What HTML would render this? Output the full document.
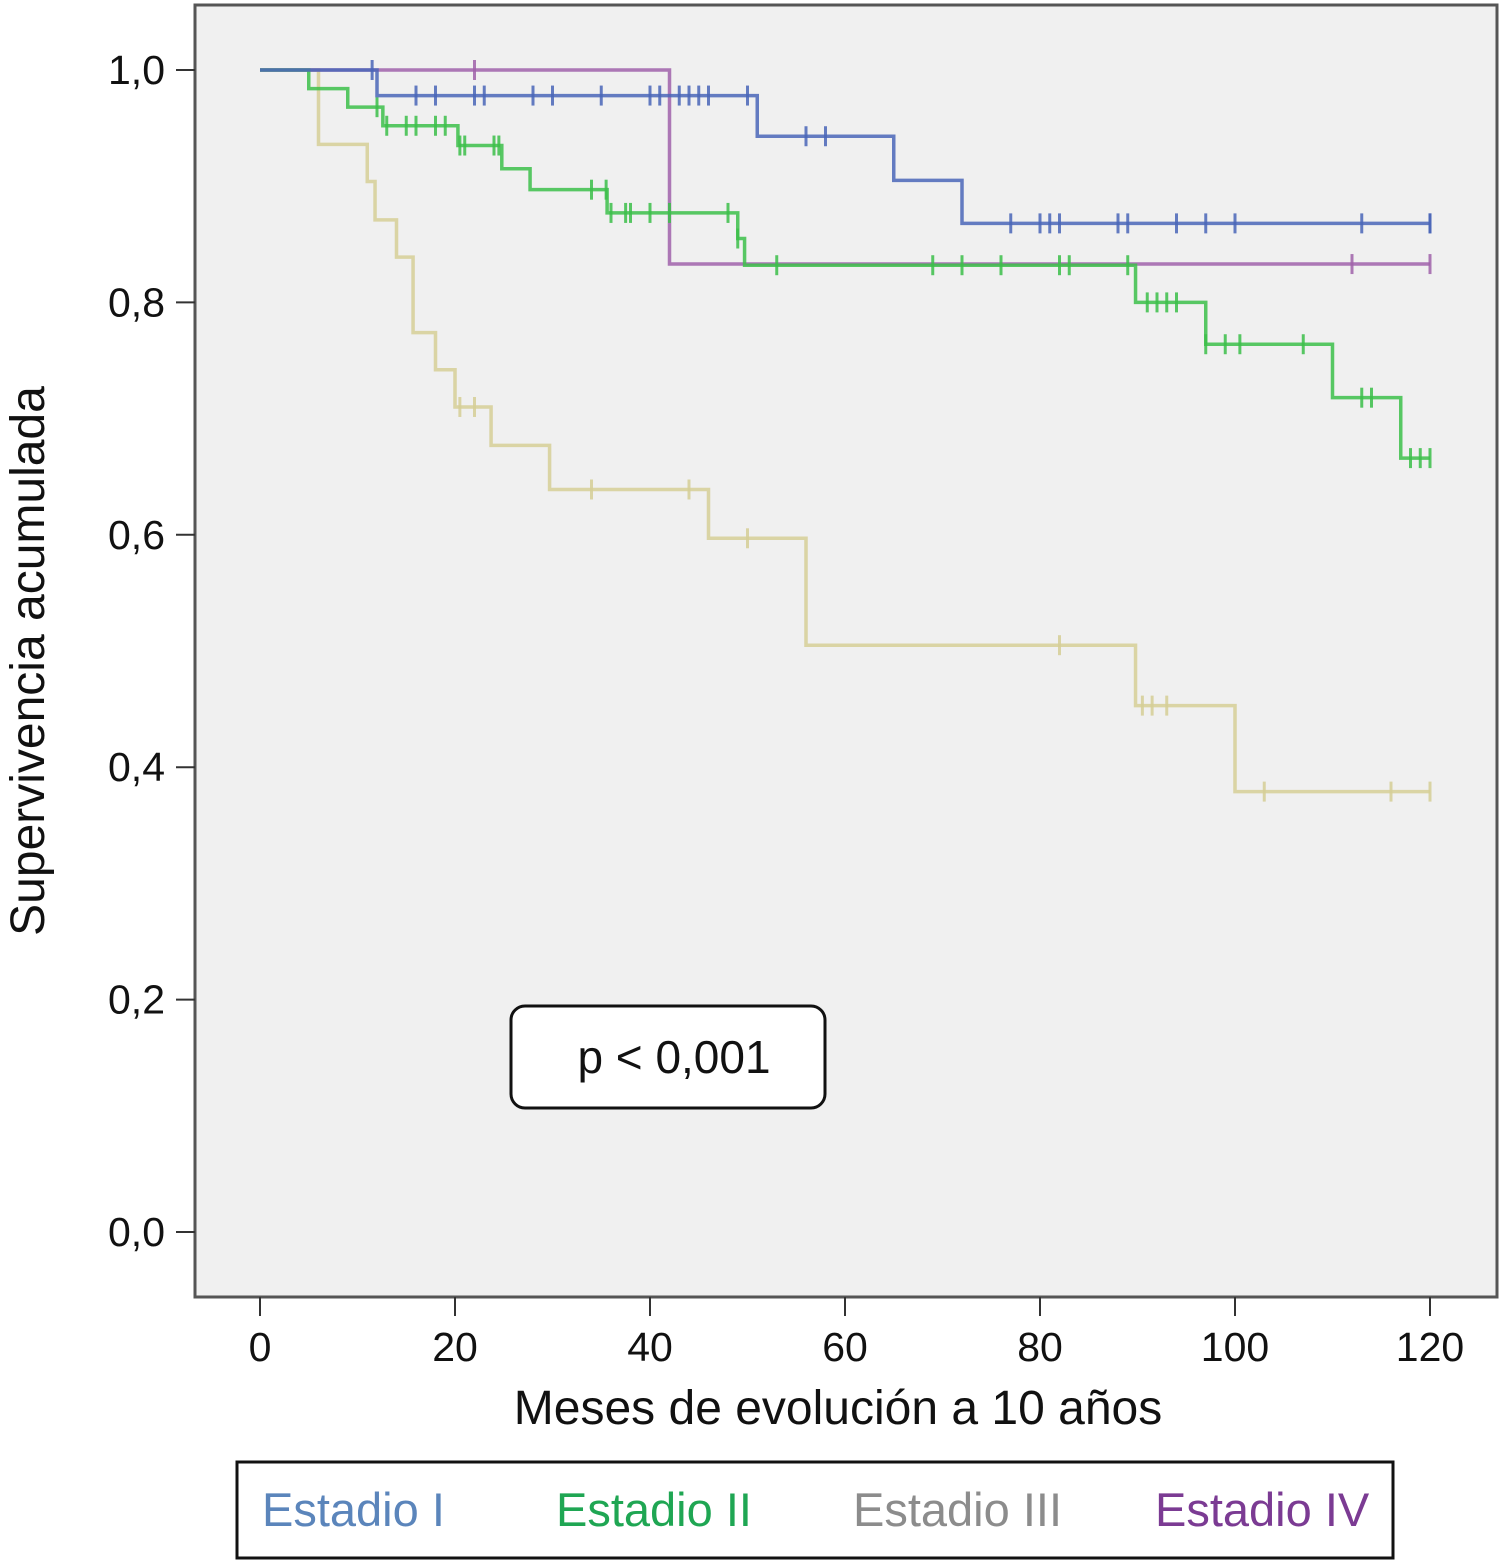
<!DOCTYPE html>
<html><head><meta charset="utf-8"><style>
body{margin:0;background:#fff;}
svg text{font-family:"Liberation Sans",sans-serif;}
</style></head><body>
<svg id="c" width="1503" height="1561" xmlns="http://www.w3.org/2000/svg">
<rect x="195" y="5" width="1302" height="1292" fill="#f0f0f0" stroke="#555" stroke-width="3"/>
<g id="axes"></g>
<g id="series"></g>
<text x="838" y="1424" font-size="48" text-anchor="middle" fill="#111">Meses de evolución a 10 años</text>
<text transform="translate(44,661) rotate(-90)" font-size="48" text-anchor="middle" fill="#111">Supervivencia acumulada</text>
<rect x="511" y="1006" width="314" height="102" rx="14" fill="#fff" stroke="#111" stroke-width="3"/>
<text x="674" y="1073" font-size="46" text-anchor="middle" fill="#111">p &lt; 0,001</text>
<g>
<rect x="237" y="1462" width="1156" height="96" fill="#fff" stroke="#111" stroke-width="3"/>
<text x="262" y="1526" font-size="47" fill="#5b85bb">Estadio I</text>
<text x="556" y="1526" font-size="47" fill="#1fa653">Estadio II</text>
<text x="853" y="1526" font-size="47" fill="#8c8c8c">Estadio III</text>
<text x="1155" y="1526" font-size="47" fill="#7b3b93">Estadio IV</text>
</g>
</svg>
<script>
const xTicks=[0,20,40,60,80,100,120];
const yTicks=[0,0.2,0.4,0.6,0.8,1.0];
const yTickLabels=["0,0","0,2","0,4","0,6","0,8","1,0"];
const s1Times=[12,51,65,72];
const s1Surv=[0.978,0.943,0.905,0.868];
const s1Censor=[11.5,16,18,22,23,28,30,35,40,41,43,44,45,46,50,56,58,77,80,81,82,88,89,94,97,100,113,120,120];
const s2Times=[5,9,12.6,20.3,24.8,27.7,35.6,49,49.7,89.8,97,110,117];
const s2Surv=[0.984,0.968,0.952,0.935,0.915,0.897,0.877,0.855,0.832,0.800,0.764,0.718,0.666];
const s2Censor=[12,13,15,16,18,19,20.5,21,24,24.5,34,35.5,36,37.5,38,40,42,48,49,53,69,72,76,82,83,89,91,92,93,94,97,99,100.5,107,113,114,118,119,120];
const s3Times=[6,11,11.8,14,15.7,18,20,23.7,29.7,46,56,89.8,100];
const s3Surv=[0.936,0.904,0.871,0.839,0.774,0.742,0.710,0.677,0.639,0.597,0.505,0.453,0.379];
const s3Censor=[20.5,22,34,44,50,82,90.5,91.5,93,103,116,120];
const s4Times=[42];
const s4Surv=[0.833];
const s4Censor=[22,112,120];
const X=v=>260+v*9.75, Y=v=>1232-v*1162;
const NS="http://www.w3.org/2000/svg";
const ax=document.getElementById('axes'), sg=document.getElementById('series');
function mk(tag,attrs,parent){const e=document.createElementNS(NS,tag);for(const k in attrs)e.setAttribute(k,attrs[k]);parent.appendChild(e);return e;}
xTicks.forEach(t=>{
  const l=mk('line',{x1:X(t),x2:X(t),y1:1297,y2:1316,stroke:'#333','stroke-width':2},ax);
  
  
  const tx=mk('text',{x:X(t),y:1361,'font-size':41,'text-anchor':'middle',fill:'#111'},ax);
  tx.textContent=t;
  
  
});
yTicks.forEach((t,i)=>{
  const l=mk('line',{x1:176,x2:195,y1:Y(t),y2:Y(t),stroke:'#333','stroke-width':2},ax);
  
  
  const tx=mk('text',{x:165,y:Y(t)+14,'font-size':41,'text-anchor':'end',fill:'#111'},ax);
  tx.textContent=yTickLabels[i];
  
  
});
function survAt(times,surv,t){let s=1;for(let i=0;i<times.length;i++){if(times[i]<=t)s=surv[i];}return s;}
function drawSeries(times,surv,cens,color,name){
  let d='M'+X(0)+','+Y(1);
  times.forEach((t,i)=>{d+=' H'+X(t)+' V'+Y(surv[i]);});
  d+=' H'+X(120);
  const p=mk('path',{d:d,fill:'none',stroke:color,'stroke-width':3.5,opacity:0.85},sg);
  
  
  cens.forEach(c=>{
    const y=Y(survAt(times,surv,c));
    const m=mk('line',{x1:X(c),x2:X(c),y1:y-10,y2:y+10,stroke:color,'stroke-width':3,opacity:0.85},sg);
    
    
  });
}
drawSeries(s3Times,s3Surv,s3Censor,'#d6cf96','estadio-iii');
drawSeries(s4Times,s4Surv,s4Censor,'#a062aa','estadio-iv');
drawSeries(s2Times,s2Surv,s2Censor,'#3cbf4a','estadio-ii');
drawSeries(s1Times,s1Surv,s1Censor,'#4a66b8','estadio-i');
</script>
</body></html>
